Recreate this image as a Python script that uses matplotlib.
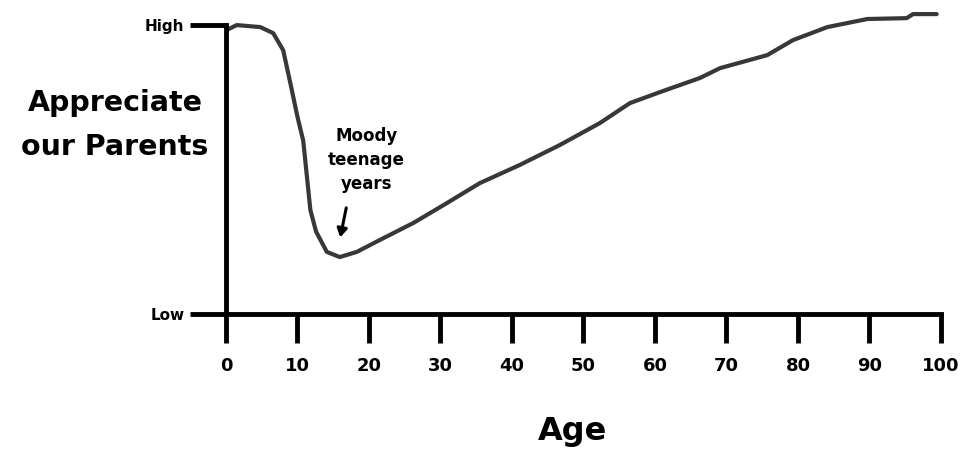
import numpy as np
import matplotlib.pyplot as plt

# Age vs. how much we appreciate our parents (0 = Low, 1 = High)
age = [0.1, 1.5, 4.8, 6.6, 8.0, 9.0, 10.0, 10.8, 11.3, 11.8, 12.6, 14.1, 15.9, 18.3,
       21.5, 26.2, 30.9, 35.5, 41.1, 46.7, 52.3, 56.5, 60.7, 66.3, 69.1, 75.7, 79.3,
       84.1, 89.7, 95.2, 96.1, 99.4]
appreciation = [0.983, 1.0, 0.993, 0.972, 0.913, 0.799, 0.682, 0.600, 0.480, 0.360,
                0.285, 0.215, 0.197, 0.215, 0.256, 0.315, 0.384, 0.453, 0.516, 0.585,
                0.661, 0.730, 0.768, 0.817, 0.851, 0.896, 0.948, 0.993, 1.021, 1.024,
                1.038, 1.038]

x_ticks = [0, 10, 20, 30, 40, 50, 60, 70, 80, 90, 100]
y_ticks = [0, 1]
y_tick_labels = ["Low", "High"]

plt.rcParams['font.family'] = ['DejaVu Sans']
plt.rcParams['font.weight'] = 'bold'

fig = plt.figure(figsize=(9.65, 4.55), dpi=100)
ax = fig.add_axes([0.2342, 0.3099, 0.7409, 0.668])

ax.plot(age, appreciation, color="#383838", linewidth=3, solid_capstyle="round",
        solid_joinstyle="round", clip_on=False)

ax.set_xlim(0, 100)
ax.set_ylim(0, 1.052)

for side in ["top", "right"]:
    ax.spines[side].set_visible(False)
ax.spines["left"].set_bounds(0, 1)
ax.spines["bottom"].set_bounds(0, 100)
ax.spines["left"].set_linewidth(3.5)
ax.spines["bottom"].set_linewidth(3.5)

ax.set_xticks(x_ticks)
ax.set_yticks(y_ticks)
ax.set_yticklabels(y_tick_labels)
ax.tick_params(axis="x", direction="out", length=21, width=3.5, pad=10, labelsize=13)
ax.tick_params(axis="y", direction="out", length=26, width=3.5, pad=4, labelsize=11)

ax.set_ylabel("Appreciate\nour Parents", rotation=0, fontsize=20.5, fontweight="bold",
              ha="center", va="center", linespacing=1.7)
ax.yaxis.set_label_coords(-0.155, 0.622)
ax.set_xlabel("Age", fontsize=23, fontweight="bold", va="center")
ax.xaxis.set_label_coords(0.485, -0.385)

ax.text(19.6, 0.533, "Moody\nteenage\nyears", ha="center", va="center",
        fontsize=12, fontweight="bold", linespacing=1.4)
ax.annotate("", xy=(15.9, 0.256), xytext=(16.9, 0.377),
            arrowprops=dict(arrowstyle="-|>,head_width=0.3,head_length=0.5",
                            color="black", linewidth=2.2))

fig.savefig("out.png", dpi=100)
